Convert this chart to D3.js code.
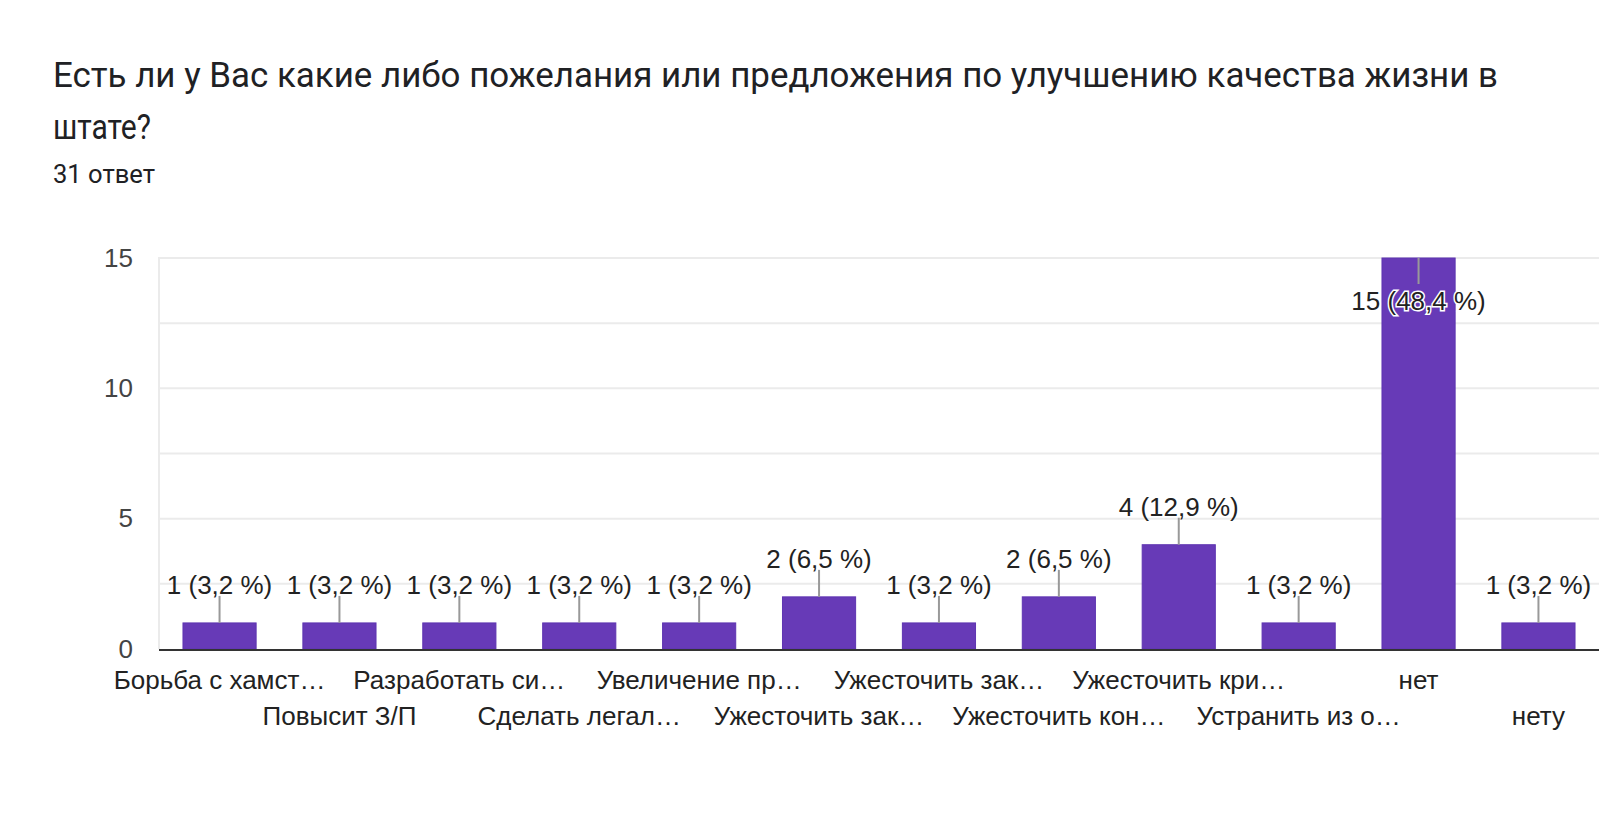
<!DOCTYPE html>
<html><head><meta charset="utf-8">
<script src="https://cdn.jsdelivr.net/npm/d3@7"></script>
<style>
html,body{margin:0;padding:0;background:#fff;}
svg{display:block;}
</style>
</head><body>
<svg id="chart" width="1600" height="813"></svg>
<script>
const titleLines = ["Есть ли у Вас какие либо пожелания или предложения по улучшению качества жизни в", "штате?"];
const subtitle = "31 ответ";
const categories = ["Борьба с хамст…","Повысит З/П","Разработать си…","Сделать легал…","Увеличение пр…","Ужесточить зак…","Ужесточить зак…","Ужесточить кон…","Ужесточить кри…","Устранить из о…","нет","нету"];
const values = [1,1,1,1,1,2,1,2,4,1,15,1];
const percents = ["3,2","3,2","3,2","3,2","3,2","6,5","3,2","6,5","12,9","3,2","48,4","3,2"];
const yTicks = [0,5,10,15];
const yGrid = [2.5,5,7.5,10,12.5,15];

const svg = d3.select("#chart");
svg.append("rect").attr("width",1600).attr("height",813).attr("fill","#fff");

const t = svg.append("g").attr("font-family","Roboto, 'Noto Sans', sans-serif").attr("fill","#202124");
const titleWidths = [1445, 98];
t.selectAll("text.title").data(titleLines).join("text")
  .attr("class","title").attr("x",53).attr("y",(d,i)=>87+i*52)
  .attr("font-size",34.8)
  .attr("textLength",(d,i)=>titleWidths[i]).attr("lengthAdjust","spacingAndGlyphs")
  .text(d=>d);
t.append("text").attr("x",53).attr("y",182.5).attr("font-size",26)
  .attr("textLength",102).attr("lengthAdjust","spacingAndGlyphs").text(subtitle);

const plotL = 159, plotR = 1599, plotT = 258, plotB = 649;
const x = d3.scaleBand().domain(d3.range(categories.length)).range([plotL,plotR]).paddingInner(0.39).paddingOuter(0.2);
const y = d3.scaleLinear().domain([0,15]).range([plotB,plotT]);

const g = svg.append("g").attr("font-family","Arial, 'Liberation Sans', sans-serif");

g.selectAll("line.grid").data(yGrid).join("line")
  .attr("x1",plotL).attr("x2",plotR).attr("y1",d=>y(d)).attr("y2",d=>y(d))
  .attr("stroke","#ebebeb").attr("stroke-width",2);
g.append("line").attr("x1",plotL).attr("x2",plotL).attr("y1",plotT-1).attr("y2",plotB)
  .attr("stroke","#ebebeb").attr("stroke-width",2);

const yAxis = d3.axisLeft(y).tickValues(yTicks).tickSize(0).tickPadding(26);
const ya = g.append("g").attr("transform",`translate(${plotL},0)`).call(yAxis);
ya.select(".domain").remove();
ya.selectAll("text").attr("font-size",26).attr("fill","#444").attr("font-family","Arial, 'Liberation Sans', sans-serif");

g.selectAll("rect.bar").data(values).join("rect")
  .attr("class","bar")
  .attr("x",(d,i)=>x(i)).attr("width",x.bandwidth())
  .attr("y",d=>y(d)).attr("height",d=>plotB-y(d))
  .attr("fill","#673ab7").attr("stroke","#5e35b1").attr("stroke-width",1);

g.append("line").attr("x1",plotL).attr("x2",plotR).attr("y1",plotB+1).attr("y2",plotB+1)
  .attr("stroke","#333").attr("stroke-width",2);

values.forEach((v,i)=>{
  const cx = x(i)+x.bandwidth()/2;
  const top = y(v);
  const inside = top-38 < plotT;
  const ly = inside ? top+43 : top-38;
  const l1 = inside ? top : ly+11;
  const l2 = inside ? ly-17 : top;
  g.append("line").attr("x1",cx).attr("x2",cx).attr("y1",l1).attr("y2",l2)
    .attr("stroke","#999").attr("stroke-width",2);
  const txt = g.append("text").attr("x",cx).attr("y",ly)
    .attr("text-anchor","middle").attr("dominant-baseline","central")
    .attr("font-size",26).attr("fill","#222")
    .text(`${v} (${percents[i]} %)`);
  if(inside) txt.attr("stroke","#fff").attr("stroke-width",3).attr("paint-order","stroke");
});

const xAxis = d3.axisBottom(x).tickFormat(i=>categories[i]).tickSize(0);
const xa = g.append("g").attr("transform",`translate(0,${plotB})`).call(xAxis);
xa.select(".domain").remove();
xa.selectAll("text").attr("font-size",26).attr("fill","#222")
  .attr("font-family","Arial, 'Liberation Sans', sans-serif")
  .attr("dy",null).attr("dominant-baseline","central")
  .attr("y",(d,i)=> i%2===0 ? 31 : 67);
</script>
</body></html>
